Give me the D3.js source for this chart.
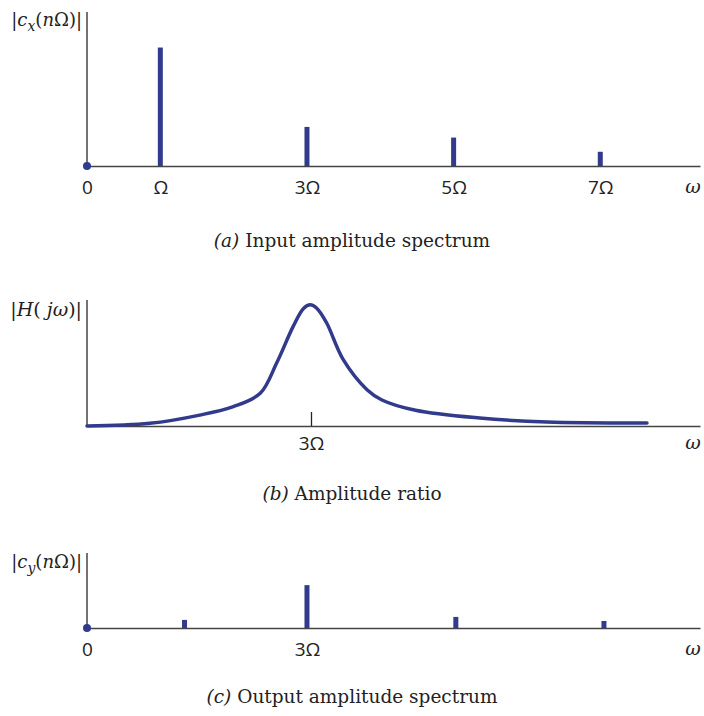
<!DOCTYPE html>
<html>
<head>
<meta charset="utf-8">
<script src="https://cdn.jsdelivr.net/npm/d3@7"></script>
<style>
  body { margin: 0; background: #fff; }
  .tick text { font-family: "Open Sans", sans-serif; font-size: 19px; fill: #222; }
  .cap { font-family: "DejaVu Serif", serif; font-size: 18.5px; fill: #222; }
  .ylab { font-family: "DejaVu Serif", serif; font-size: 18px; fill: #222; }
</style>
</head>
<body>
<div id="chart-container"></div>
<script>
// Input harmonics (panel a), positions in units of Omega
const inHarm = [1, 3, 5, 7];
const inAmp = [1.0, 0.33, 0.24, 0.12];
const inTicks = [0, 1, 3, 5, 7];
const inTickLabels = ["0", "Ω", "3Ω", "5Ω", "7Ω"];

// Amplitude ratio curve (panel b)
const hW = [0, 0.84, 1.51, 1.96, 2.32, 2.54, 2.76, 2.9, 2.99, 3.08, 3.21, 3.43, 3.75, 3.95, 4.4, 5.26, 6.16, 7.5];
const hVal = [0, 0.022, 0.09, 0.16, 0.27, 0.52, 0.82, 0.97, 1.0, 0.97, 0.85, 0.55, 0.3, 0.215, 0.13, 0.066, 0.033, 0.025];

// Output harmonics (panel c)
const outHarm = [1.33, 3, 5.03, 7.05];
const outAmp = [0.068, 0.36, 0.093, 0.059];
const outTicks = [0, 3];
const outTickLabels = ["0", "3Ω"];

const W = 704, H = 716;
const blue = "#323a8c";
const axisCol = "#444";

const svg = d3.select("#chart-container")
  .append("svg")
    .attr("width", W)
    .attr("height", H);

// draw one panel's axes and labels
function axes(x, y, ticks, labels, tickLen, pad) {
  const g = svg.append("g");
  g.append("g")
    .attr("transform", `translate(0, ${y.range()[0]})`)
    .call(d3.axisBottom(x)
      .tickValues(ticks)
      .tickFormat((d, i) => labels[i])
      .tickSizeInner(tickLen)
      .tickSizeOuter(0)
      .tickPadding(pad))
    .call(g => g.select(".domain").attr("stroke", axisCol).attr("stroke-width", 1.5))
    .call(g => g.selectAll(".tick line").attr("stroke", "#222").attr("stroke-width", 1.3));
  // vertical axis
  g.append("line")
    .attr("x1", x(0)).attr("x2", x(0))
    .attr("y1", y.range()[0]).attr("y2", y.range()[1])
    .attr("stroke", axisCol).attr("stroke-width", 1.5);
  // omega label at right end
  g.append("text")
    .attr("x", 693).attr("y", y.range()[0] + pad + 12)
    .attr("text-anchor", "middle")
    .style("font-family", "DejaVu Serif, serif").style("font-style", "italic")
    .style("font-size", "19px").attr("fill", "#222")
    .text("ω");
  return g;
}

function caption(yPos, tag, rest) {
  const t = svg.append("text").attr("class", "cap")
    .attr("x", 352).attr("y", yPos).attr("text-anchor", "middle");
  t.append("tspan").style("font-style", "italic").text(tag);
  t.append("tspan").text(" " + rest);
}

// y labels like |c_x(nΩ)|
function coefLabel(yPos, sub) {
  const t = svg.append("text").attr("class", "ylab")
    .attr("x", 82).attr("y", yPos).attr("text-anchor", "end");
  t.append("tspan").text("|");
  t.append("tspan").style("font-style", "italic").text("c");
  t.append("tspan").style("font-style", "italic").style("font-size", "14px").attr("dy", 5).text(sub);
  t.append("tspan").attr("dy", -5).text("(");
  t.append("tspan").style("font-style", "italic").text("n");
  t.append("tspan").text("Ω)|");
}

// ---- panel (a)
const xa = d3.scaleLinear().domain([0, 8.36]).range([87, 700]);
const ya = d3.scaleLinear().domain([0, 1.3]).range([166, 12]);
axes(xa, ya, inTicks, inTickLabels, 0, 15);

svg.selectAll(".barA")
  .data(inHarm)
  .join("rect")
  .attr("x", (d) => xa(d) - 2.5)
  .attr("width", 5)
  .attr("y", (d, i) => ya(inAmp[i]))
  .attr("height", (d, i) => ya(0) - ya(inAmp[i]))
  .attr("fill", blue);

svg.append("circle").attr("cx", xa(0)).attr("cy", ya(0)).attr("r", 4).attr("fill", blue);
coefLabel(26, "x");
caption(247, "(a)", "Input amplitude spectrum");

// ---- panel (b)
const xb = d3.scaleLinear().domain([0, 8.21]).range([87, 700]);
const yb = d3.scaleLinear().domain([0, 1.04]).range([426, 300]);
axes(xb, yb, [3], ["3Ω"], -14, 11);

const curve = d3.line()
  .x((d, i) => xb(hW[i]))
  .y((d) => yb(d))
  .curve(d3.curveCatmullRom.alpha(0.5));

svg.append("path")
  .datum(hVal)
  .attr("fill", "none")
  .attr("stroke", blue)
  .attr("stroke-width", 3.5)
  .attr("stroke-linecap", "round")
  .attr("d", curve);

const hl = svg.append("text").attr("class", "ylab")
  .attr("x", 82).attr("y", 316).attr("text-anchor", "end")
  .style("font-size", "19px");
hl.append("tspan").text("|");
hl.append("tspan").style("font-style", "italic").text("H");
hl.append("tspan").text("( ");
hl.append("tspan").style("font-style", "italic").text("jω");
hl.append("tspan").text(")|");
caption(500, "(b)", "Amplitude ratio");

// ---- panel (c)
const xc = d3.scaleLinear().domain([0, 8.36]).range([87, 700]);
const yc = d3.scaleLinear().domain([0, 0.63]).range([628, 553]);
axes(xc, yc, outTicks, outTickLabels, 0, 15);

svg.selectAll(".barC")
  .data(outHarm)
  .join("rect")
  .attr("x", (d) => xc(d) - 2.5)
  .attr("width", 5)
  .attr("y", (d, i) => yc(outAmp[i]))
  .attr("height", (d, i) => yc(0) - yc(outAmp[i]))
  .attr("fill", blue);

svg.append("circle").attr("cx", xc(0)).attr("cy", yc(0)).attr("r", 4).attr("fill", blue);
coefLabel(568, "y");
caption(703, "(c)", "Output amplitude spectrum");
</script>
</body>
</html>
